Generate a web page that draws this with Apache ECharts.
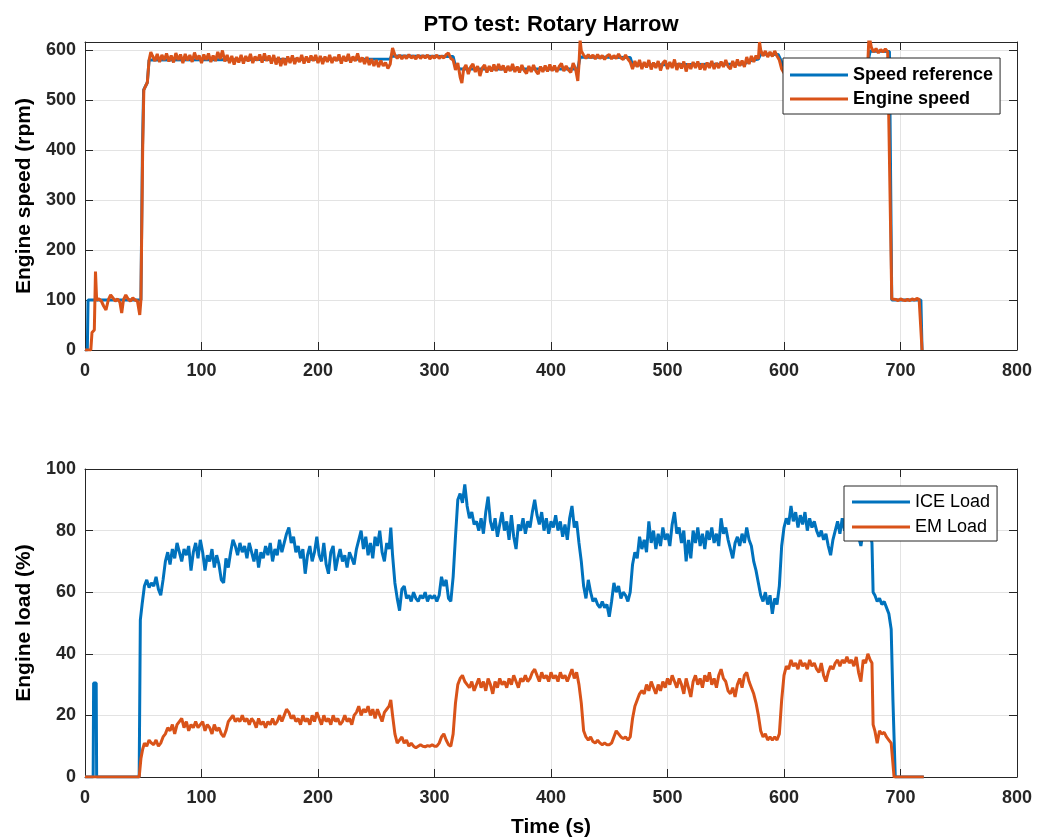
<!DOCTYPE html>
<html>
<head>
<meta charset="utf-8">
<script src="https://cdn.jsdelivr.net/npm/echarts@6/dist/echarts.min.js"></script>
<style>
html,body{margin:0;padding:0;background:#fff;}
#chart{width:1046px;height:839px;}
</style>
</head>
<body>
<div id="chart"></div>
<script>
// ---------- DATA (time s, value) ----------
const chartTitle = 'PTO test: Rotary Harrow';
const xTicks = [0, 100, 200, 300, 400, 500, 600, 700, 800];
const speedTicks = [0, 100, 200, 300, 400, 500, 600];
const loadTicks = [0, 20, 40, 60, 80, 100];
const speedLegend = ['Speed reference', 'Engine speed'];
const loadLegend = ['ICE Load', 'EM Load'];

const speedReference = [[0,0],[2,0],[2.6,100],[48,100],[49.3,400],[50.3,520],[53.5,535],[55,580],[56.5,584],[262,582],[263,588],[316,587],[318,568],[322,562],[423,562],[425,586],[468,585],[470,570],[566,572],[570,578],[578,582],[580,592],[595,591],[598,576],[601,562],[672,575],[674,598],[690.5,597],[692.5,100],[717.5,100],[718.5,0]];

const engineSpeed = [[0,0],[5,0],[6,35],[8,40],[9,157],[10,100],[12,102],[14,98],[16,88],[18,80],[20,100],[22,110],[24,104],[26,98],[28,102],[30,95],[31.5,74],[33,100],[35,110],[37,102],[39,98],[41,104],[43,100],[45,98],[47,70],[48,100],[49.5,400],[50.5,520],[52,528],[53.5,535],[55,580],[56.5,596],[58,588],[60,578],[62,592],[64,576],[66,590],[68,580],[70,593],[72,577],[74,589],[76,575],[78,594],[80,580],[82,591],[84,574],[86,592],[88,579],[90,590],[92,576],[94,595],[96,581],[98,589],[100,574],[102,591],[104,580],[106,593],[108,576],[110,589],[112,578],[114,596],[116,582],[118,599],[120,577],[122,590],[124,574],[126,588],[128,571],[130,586],[132,575],[134,590],[136,573],[138,588],[140,577],[142,592],[144,574],[146,587],[148,579],[150,591],[152,575],[154,593],[156,578],[158,589],[160,573],[162,590],[164,571],[166,586],[168,568],[170,584],[172,570],[174,587],[176,574],[178,589],[180,572],[182,585],[184,576],[186,590],[188,573],[190,587],[192,575],[194,589],[196,578],[198,590],[200,574],[202,588],[204,572],[206,587],[208,576],[210,590],[212,574],[214,586],[216,578],[218,591],[220,573],[222,588],[224,577],[226,592],[228,575],[230,587],[232,578],[234,593],[236,576],[238,585],[240,572],[242,586],[244,570],[246,582],[248,568],[250,580],[252,566],[254,579],[256,568],[258,575],[260,563],[262,572],[263,590],[264,604],[266,590],[268,583],[270,590],[272,582],[274,589],[276,583],[278,591],[280,584],[282,588],[284,582],[286,590],[288,583],[290,589],[292,584],[294,590],[296,582],[298,588],[300,584],[302,590],[304,583],[306,588],[308,584],[310,591],[312,594],[314,583],[316,580],[318,560],[320,574],[322,546],[323.5,534],[325,562],[327,570],[329,552],[331,566],[333,572],[335,556],[337,568],[339,548],[341,564],[343,570],[345,555],[347,568],[349,557],[351,571],[353,558],[355,572],[357,560],[359,569],[361,555],[363,568],[365,558],[367,572],[369,556],[371,567],[373,555],[375,570],[377,559],[379,553],[381,568],[383,556],[385,570],[387,558],[389,552],[391,567],[393,556],[395,569],[397,557],[399,571],[401,558],[403,569],[405,556],[407,567],[409,573],[411,558],[413,568],[415,560],[417,555],[419,574],[421,563],[423,538],[424,570],[425,620],[426,598],[428,590],[430,583],[432,591],[434,584],[436,590],[438,582],[440,591],[442,583],[444,589],[446,581],[448,588],[450,591],[452,582],[454,589],[456,583],[458,592],[460,584],[462,581],[464,590],[466,582],[468,576],[470,562],[472,578],[474,566],[476,580],[478,562],[480,576],[482,565],[484,580],[486,561],[488,575],[490,564],[492,578],[494,559],[496,574],[498,579],[500,562],[502,576],[504,564],[506,581],[508,560],[510,574],[512,563],[514,577],[516,557],[518,573],[520,562],[522,576],[524,564],[526,577],[528,561],[530,573],[532,560],[534,575],[536,564],[538,578],[540,562],[542,574],[544,564],[546,577],[548,566],[550,580],[552,567],[554,562],[556,578],[558,565],[560,581],[562,568],[564,579],[566,566],[568,586],[570,572],[572,588],[574,576],[576,589],[578,582],[579,616],[580,600],[582,588],[584,598],[586,586],[588,596],[590,587],[592,598],[594,588],[596,580],[598,562],[600,554],[602,566],[606,574],[610,570],[614,578],[618,572],[622,576],[626,570],[630,575],[634,568],[638,574],[642,570],[646,577],[650,572],[654,576],[658,571],[662,577],[666,573],[670,578],[672,578],[673,630],[675,605],[677,596],[679,603],[681,594],[683,601],[685,596],[687,602],[689,596],[690.5,595],[692.5,102],[694,98],[696,101],[698,99],[700,102],[702,100],[704,99],[706,101],[708,99],[710,102],[712,100],[714,103],[716,101],[717.5,100],[718.5,0]];

const iceLoad = [[0,0],[7,0],[7.4,30.5],[9.6,30.5],[10,0],[46.5,0],[47.5,51],[49,56],[51,62],[53,64],[55,61.5],[57,63],[59,62],[61,65],[63,61],[65,59],[67,64],[69,70],[71,73],[73,69],[75,74],[77,71],[79,76],[81,73],[83,70],[85,74],[87,72],[89,75],[91,67],[93,73],[95,76],[97,71],[99,77],[101,73],[103,67],[105,72],[107,70],[109,74],[111,68],[113,72],[115,69],[117,64],[119,63],[121,71],[123,68],[125,73],[127,77],[129,75],[131,72],[133,76],[135,73],[137,75],[139,71],[141,76],[143,73],[145,70],[147,74],[149,68],[151,73],[153,71],[155,75],[157,72],[159,76],[161,70],[163,74],[165,72],[167,77],[169,73],[171,76],[173,79],[175,81],[177,76],[179,78],[181,73],[183,75],[185,71],[187,74],[189,66],[191,72],[193,75],[195,70],[197,73],[199,78],[201,72],[203,70],[205,76],[207,69],[209,66],[211,73],[213,75],[215,67],[217,71],[219,74],[221,70],[223,72],[225,68],[227,73],[229,71],[231,69],[233,74],[235,77],[237,80],[239,74],[241,78],[243,72],[245,76],[247,71],[249,78],[251,75],[253,80],[255,73],[257,70],[259,76],[261,74],[262.5,81],[264,72],[266,63],[268,58],[270,54],[272,61],[274,62],[276,58],[278,59],[280,57],[282,60],[284,58],[286,57],[288,59],[290,58],[292,60],[294,57],[296,59],[298,58],[300,59],[302,57],[304,59],[306,65],[308,62],[310,64],[312,58],[314,57],[316,65],[318,78],[320,90],[322,92],[324,89],[326,95],[328,88],[330,84],[332,86],[334,82],[336,83],[338,80],[340,84],[342,79],[344,86],[346,91],[348,83],[350,80],[352,84],[354,78],[356,82],[358,86],[360,80],[362,83],[364,77],[366,85],[368,78],[370,74],[372,82],[374,80],[376,84],[378,79],[380,83],[382,81],[384,86],[386,90],[388,85],[390,82],[392,86],[394,80],[396,84],[398,79],[400,83],[402,81],[404,85],[406,80],[408,83],[410,78],[412,82],[414,77],[416,84],[418,88],[420,81],[422,83],[424,76],[426,70],[428,62],[430,58],[432,64],[434,60],[436,57],[438,58],[440,56],[442,55],[444,57],[446,55],[448,56],[450,52],[452,57],[454,63],[456,60],[458,62],[460,58],[462,60],[464,59],[466,57],[468,60],[470,69],[472,73],[474,71],[476,78],[478,74],[480,77],[482,73],[484,83],[486,76],[488,80],[490,74],[492,79],[494,75],[496,81],[498,77],[500,79],[502,75],[504,82],[506,86],[508,79],[510,81],[512,76],[514,80],[516,70],[518,77],[520,71],[522,80],[524,76],[526,81],[528,75],[530,79],[532,74],[534,80],[536,77],[538,81],[540,76],[542,79],[544,75],[546,84],[548,79],[550,81],[552,77],[554,74],[556,71],[558,76],[560,78],[562,75],[564,79],[566,76],[568,81],[570,77],[572,75],[574,70],[576,67],[578,63],[580,59],[582,57],[584,60],[586,56],[588,59],[590,53],[592,58],[594,56],[596,62],[598,75],[600,81],[602,84],[604,82],[606,88],[608,83],[610,86],[612,81],[614,85],[616,82],[618,86],[620,80],[622,84],[624,81],[626,83],[628,80],[630,78],[632,80],[634,77],[636,79],[638,75],[640,72],[642,77],[644,80],[646,83],[648,79],[650,84],[652,80],[654,82],[656,78],[658,83],[660,80],[662,84],[664,78],[666,75],[668,80],[670,77],[672,81],[674,79],[675.5,76],[676.5,60],[678,59],[680,57],[682,58],[684,56],[686,57],[688,55],[690,53],[692,48],[693.5,25],[695.5,0],[720,0]];

const emLoad = [[0,0],[46.5,0],[48,6],[49.5,9],[51,11],[53,10],[55,12],[57,11],[59,10.5],[61,12],[63,10],[65,11],[67,13],[69,14],[71,16],[73,15],[75,17],[77,14],[79,17],[81,18],[83,19],[85,16],[87,18],[89,15],[91,17],[93,16],[95,18],[97,16],[99,17],[101,18],[103,15],[105,17],[107,16],[109,14],[111,17],[113,15],[115,16],[117,14],[119,13],[121,15],[123,18],[125,19],[127,20],[129,18],[131,19],[133,18],[135,20],[137,18],[139,19],[141,17],[143,19],[145,18],[147,16],[149,19],[151,17],[153,18],[155,16],[157,18],[159,17],[161,19],[163,17],[165,18],[167,20],[169,18],[171,20],[173,22],[175,21],[177,19],[179,20],[181,18],[183,19],[185,17],[187,20],[189,18],[191,19],[193,17],[195,20],[197,18],[199,21],[201,19],[203,17],[205,20],[207,18],[209,19],[211,17],[213,20],[215,18],[217,19],[219,17],[221,18],[223,20],[225,18],[227,19],[229,17],[231,20],[233,21],[235,23],[237,20],[239,22],[241,21],[243,23],[245,20],[247,22],[249,19],[251,22],[253,20],[255,18],[257,21],[259,22],[261,23],[262.5,25],[264,20],[266,14],[268,11],[270,12],[272,13],[274,11],[276,12],[278,10],[280,11],[282,10],[284,9.5],[286,10],[288,10.5],[290,10],[292,9.8],[294,10.2],[296,10],[298,10.5],[300,10],[302,10],[304,11],[306,13],[308,14],[310,12],[312,10.5],[314,10],[316,14],[318,24],[320,30],[322,32],[324,33],[326,31],[328,30],[330,29],[332,31],[334,28],[336,30],[338,32],[340,29],[342,31],[344,28],[346,32],[348,30],[350,27],[352,31],[354,29],[356,32],[358,30],[360,31],[362,29],[364,32],[366,30],[368,33],[370,31],[372,29],[374,32],[376,31],[378,33],[380,31],[382,32],[384,34],[386,35],[388,33],[390,31],[392,34],[394,32],[396,33],[398,31],[400,34],[402,32],[404,33],[406,31],[408,34],[410,32],[412,33],[414,31],[416,33],[418,35],[420,32],[422,34],[424,30],[426,24],[428,15],[430,13],[432,12],[434,13],[436,11.5],[438,11],[440,12],[442,11],[444,10.5],[446,11],[448,10.5],[450,10.5],[452,11],[454,13],[456,15],[458,14],[460,13],[462,12.5],[464,13],[466,12],[468,13],[470,19],[472,23],[474,25],[476,27],[478,28],[480,27],[482,30],[484,28],[486,31],[488,29],[490,27],[492,30],[494,28],[496,31],[498,29],[500,32],[502,30],[504,33],[506,31],[508,29],[510,32],[512,30],[514,27],[516,32],[518,29],[520,26],[522,31],[524,33],[526,30],[528,32],[530,29],[532,33],[534,31],[536,34],[538,30],[540,32],[542,29],[544,33],[546,35],[548,32],[550,31],[552,28],[554,27],[556,29],[558,26],[560,30],[562,32],[564,29],[566,33],[568,34],[570,31],[572,29],[574,27],[576,24],[578,20],[580,15],[582,13],[584,14],[586,12],[588,13],[590,12],[592,13],[594,12],[596,14],[598,25],[600,33],[602,36],[604,35],[606,38],[608,36],[610,37],[612,35],[614,38],[616,36],[618,37],[620,35],[622,38],[624,36],[626,37],[628,35],[630,34],[632,37],[634,33],[636,31],[638,34],[640,36],[642,35],[644,37],[646,38],[648,36],[650,38],[652,37],[654,39],[656,37],[658,38],[660,36],[662,39],[664,34],[666,31],[668,38],[670,37],[672,40],[674,38],[675.5,37],[676.5,17],[678,15],[680,11],[682,15],[684,14],[686,14.5],[688,13],[690,12],[692,11],[694.5,0],[720,0]];

// ---------- STYLE ----------
const BLUE = '#0072BD', ORANGE = '#D95319';
const FONT = '"Liberation Sans", Arial, sans-serif';
const AX = '#262626', GRIDC = '#e3e3e3';

function mkX(gi, pos, labels) {
  return {
    type: 'value', gridIndex: gi, position: pos, min: xTicks[0], max: xTicks[xTicks.length - 1],
    interval: xTicks[1] - xTicks[0],
    axisLine: { show: true, onZero: false, lineStyle: { color: AX, width: 1 } },
    axisTick: { show: true, inside: true, length: 8, lineStyle: { color: AX } },
    axisLabel: { show: labels, margin: 12, color: AX, fontFamily: FONT, fontSize: 18, fontWeight: 'bold' },
    splitLine: { show: labels, lineStyle: { color: GRIDC, width: 1 } }
  };
}
function mkY(gi, pos, ticks, max, labels, name) {
  return {
    type: 'value', gridIndex: gi, position: pos, min: ticks[0], max: max,
    interval: ticks[1] - ticks[0],
    name: labels ? name : '', nameLocation: 'middle', nameGap: 50, nameRotate: 90,
    nameTextStyle: { color: '#000', fontFamily: FONT, fontSize: 21, fontWeight: 'bold' },
    axisLine: { show: true, onZero: false, lineStyle: { color: AX, width: 1 } },
    axisTick: { show: true, inside: true, length: 8, lineStyle: { color: AX } },
    axisLabel: { show: labels, margin: 9, color: AX, fontFamily: FONT, fontSize: 18, fontWeight: 'bold',
      showMaxLabel: max === ticks[ticks.length - 1] },
    splitLine: { show: labels, lineStyle: { color: GRIDC, width: 1 } }
  };
}
function line(name, data, color, xi, yi) {
  return { name, type: 'line', data, xAxisIndex: xi, yAxisIndex: yi, symbol: 'none',
    color, lineStyle: { color, width: 3 }, clip: true, animation: false };
}
function legend(data, left, top, pad, gap, bold) {
  return {
    data, orient: 'vertical', left, top, padding: pad, itemGap: gap,
    icon: 'rect', itemWidth: 58, itemHeight: 3,
    backgroundColor: '#fff', borderColor: AX, borderWidth: 1, borderRadius: 0,
    textStyle: { color: '#000', fontFamily: FONT, fontSize: 18, fontWeight: bold ? 'bold' : 'normal' },
    selectedMode: false
  };
}

const xAxes = [mkX(0, 'bottom', true), mkX(0, 'top', false), mkX(1, 'bottom', true), mkX(1, 'top', false)];
xAxes[2].name = 'Time (s)';
xAxes[2].nameLocation = 'middle';
xAxes[2].nameGap = 40;
xAxes[2].nameTextStyle = { color: '#000', fontFamily: FONT, fontSize: 21, fontWeight: 'bold' };

const option = {
  backgroundColor: '#fff',
  animation: false,
  graphic: [{ type: 'text', x: 551, y: 25, style: { text: chartTitle, fill: '#000',
    font: 'bold 22px ' + FONT, textAlign: 'center', textVerticalAlign: 'middle' } }],
  grid: [
    { left: 85, top: 42, width: 932, height: 308, show: false },
    { left: 85, top: 469, width: 932, height: 308, show: false }
  ],
  xAxis: xAxes,
  yAxis: [
    mkY(0, 'left', speedTicks, 616, true, 'Engine speed (rpm)'),
    mkY(0, 'right', speedTicks, 616, false, ''),
    mkY(1, 'left', loadTicks, 100, true, 'Engine load (%)'),
    mkY(1, 'right', loadTicks, 100, false, '')
  ],
  legend: [
    legend(speedLegend, 783, 58, [8, 7, 6, 7], 6, true),
    legend(loadLegend, 844, 486, [7, 7, 5, 8], 7, false)
  ],
  series: [
    line(speedLegend[0], speedReference, BLUE, 0, 0),
    line(speedLegend[1], engineSpeed, ORANGE, 0, 0),
    line(loadLegend[0], iceLoad, BLUE, 2, 2),
    line(loadLegend[1], emLoad, ORANGE, 2, 2)
  ]
};
const chart = echarts.init(document.getElementById('chart'), null, { renderer: 'canvas' });
chart.setOption(option);
</script>
</body>
</html>
